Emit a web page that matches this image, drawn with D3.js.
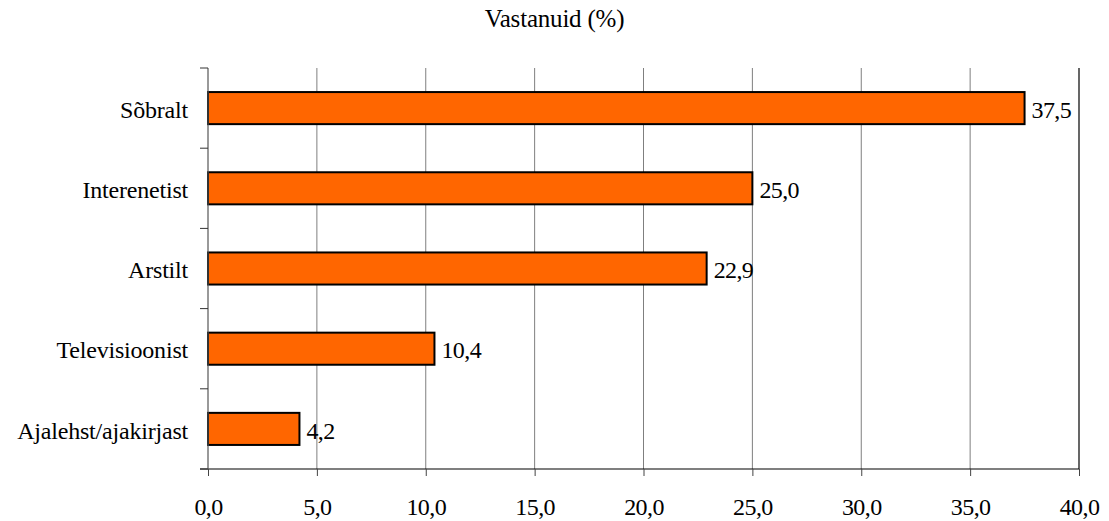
<!DOCTYPE html>
<html>
<head>
<meta charset="utf-8">
<script src="https://cdn.jsdelivr.net/npm/d3@7"></script>
<style>
  html, body { margin: 0; padding: 0; background: #fff; }
  svg { display: block; }
</style>
</head>
<body>
<svg id="chart" width="1109" height="521"></svg>
<script>
// Sources of information (share of respondents, %)
const categories = ["Sõbralt", "Interenetist", "Arstilt", "Televisioonist", "Ajalehst/ajakirjast"];
const values = [37.5, 25.0, 22.9, 10.4, 4.2];
const xTicks = [0, 5, 10, 15, 20, 25, 30, 35, 40];
const axisTitle = "Vastanuid (%)";

const FONT = "Liberation Serif, Tinos, serif";
const fmt = v => v.toFixed(1).replace(".", ",");

const svg = d3.select("#chart");
const margin = { left: 208, right: 30, top: 68, bottom: 52 };
const W = 1109, H = 521;

const x = d3.scaleLinear().domain([0, 40]).range([margin.left, W - margin.right]);
const y = d3.scaleBand().domain(categories)
  .range([margin.top, H - margin.bottom])
  .paddingInner(0.6).paddingOuter(0.3);

// vertical gridlines
svg.append("g").selectAll("line")
  .data(xTicks.filter(t => t > 0 && t < 40))
  .join("line")
  .attr("x1", d => x(d)).attr("x2", d => x(d))
  .attr("y1", margin.top).attr("y2", H - margin.bottom)
  .attr("stroke", "#7f7f7f").attr("stroke-width", 1);

// right border at the top of the scale
svg.append("line")
  .attr("x1", x(40)).attr("x2", x(40))
  .attr("y1", margin.top).attr("y2", H - margin.bottom)
  .attr("stroke", "#000").attr("stroke-width", 1.2);

// bars
svg.append("g").selectAll("rect")
  .data(values)
  .join("rect")
  .attr("x", x(0))
  .attr("y", (d, i) => y(categories[i]))
  .attr("width", d => x(d) - x(0))
  .attr("height", y.bandwidth())
  .attr("fill", "#FF6600")
  .attr("stroke", "#000").attr("stroke-width", 2);

// value labels
svg.append("g").selectAll("text")
  .data(values)
  .join("text")
  .attr("x", d => x(d) + 7)
  .attr("y", (d, i) => y(categories[i]) + y.bandwidth() / 2)
  .attr("dy", "0.4em")
  .style("font-family", FONT)
  .style("font-size", "24px")
  .style("letter-spacing", "-0.6px")
  .style("fill", "#000")
  .text(d => fmt(d));

// bottom axis
const xAxis = d3.axisBottom(x).tickValues(xTicks).tickFormat(fmt)
  .tickSizeInner(7).tickSizeOuter(0).tickPadding(22);
const gx = svg.append("g")
  .attr("transform", `translate(0,${H - margin.bottom})`)
  .call(xAxis);
gx.select(".domain").attr("stroke", "#000").attr("stroke-width", 1.2)
  .attr("d", `M${margin.left - 8},0H${x(40)}`);
gx.selectAll(".tick line").attr("stroke", "#444");
gx.selectAll(".tick text")
  .style("font-family", FONT)
  .style("font-size", "24px")
  .style("letter-spacing", "-0.6px")
  .style("fill", "#000");

// left axis: ticks at category boundaries
const gy = svg.append("g");
gy.append("line")
  .attr("x1", margin.left).attr("x2", margin.left)
  .attr("y1", margin.top).attr("y2", H - margin.bottom)
  .attr("stroke", "#555").attr("stroke-width", 1.2);
gy.selectAll("line.b")
  .data(d3.range(categories.length + 1))
  .join("line").attr("class", "b")
  .attr("x1", margin.left - 8).attr("x2", margin.left)
  .attr("y1", i => margin.top + i * (H - margin.bottom - margin.top) / categories.length)
  .attr("y2", i => margin.top + i * (H - margin.bottom - margin.top) / categories.length)
  .attr("stroke", "#333").attr("stroke-width", 1);
gy.selectAll("text")
  .data(categories)
  .join("text")
  .attr("x", margin.left - 20)
  .attr("y", d => y(d) + y.bandwidth() / 2)
  .attr("dy", "0.4em")
  .attr("text-anchor", "end")
  .style("font-family", FONT)
  .style("font-size", "24px")
  .style("letter-spacing", "-0.2px")
  .style("fill", "#000")
  .text(d => d);

// axis title
svg.append("text")
  .attr("x", (x(0) + x(40)) / 2 - 89)
  .attr("y", 27)
  .attr("text-anchor", "middle")
  .style("font-family", FONT)
  .style("font-size", "25px")
  .style("letter-spacing", "-0.2px")
  .style("fill", "#000")
  .text(axisTitle);
</script>
</body>
</html>
